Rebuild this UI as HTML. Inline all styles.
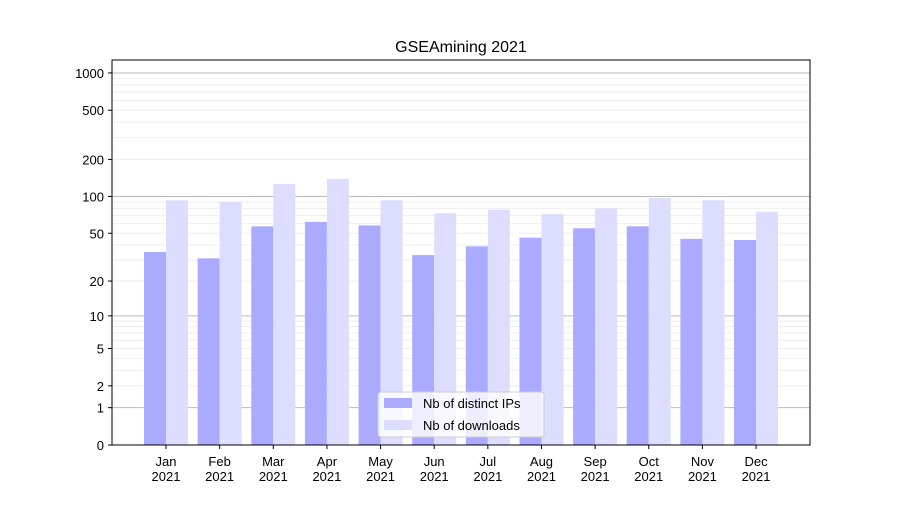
<!DOCTYPE html>
<html><head><meta charset="utf-8"><style>
body{margin:0;background:#fff;}
svg text{font-family:"Liberation Sans","DejaVu Sans",sans-serif;}
</style></head><body>
<svg id="chart" width="900" height="500" xmlns="http://www.w3.org/2000/svg">
<rect width="900" height="500" fill="#fff"/>
<text x="461" y="52" text-anchor="middle" font-size="16">GSEAmining 2021</text>
<g id="grid"></g>
<g id="bars"></g>
<rect x="112" y="60" width="698" height="385" fill="none" stroke="#000" stroke-width="1"/>
<g id="yaxis"></g>
<g id="xaxis"></g>
<g>
<rect x="378" y="392" width="166" height="45" rx="3" fill="#fff" fill-opacity="0.8" stroke="#ccc"/>
<rect x="384" y="398" width="28" height="10" fill="#aaaaff"/>
<text x="423" y="408" font-size="13">Nb of distinct IPs</text>
<rect x="384" y="420" width="28" height="10" fill="#ddddff"/>
<text x="423" y="430" font-size="13">Nb of downloads</text>
</g>
</svg>
<script>
const months=["Jan","Feb","Mar","Apr","May","Jun","Jul","Aug","Sep","Oct","Nov","Dec"];
const ips=[35,31,57,62,58,33,39,46,55,57,45,44];
const downloads=[93,90,126,139,93,73,78,72,80,97,93,75];
const yTicks=[0,1,2,5,10,20,50,100,200,500,1000];
const NS="http://www.w3.org/2000/svg";
function y(v){return 445-124*Math.log10(v+1);}
function xc(i){return 166+i*53.64;}
function mk(tag,attrs,parent){const e=document.createElementNS(NS,tag);for(const k in attrs)e.setAttribute(k,attrs[k]);document.getElementById(parent).appendChild(e);return e;}
// grid
for(let d=1;d<=1000;d*=10){for(let m=1;m<10;m++){const v=d*m;if(v>1000)break;
const l=mk("line",{x1:112,x2:810,y1:y(v),y2:y(v),stroke:m===1?"#bbb":"#eee","stroke-width":1},"grid");

}}
months.forEach((m,i)=>{
const a=mk("rect",{x:xc(i)-22,y:y(ips[i]),width:22,height:445-y(ips[i]),fill:"#aaaaff"},"bars");


const b=mk("rect",{x:xc(i),y:y(downloads[i]),width:22,height:445-y(downloads[i]),fill:"#ddddff"},"bars");


const t=mk("line",{x1:xc(i),x2:xc(i),y1:445,y2:449,stroke:"#000"},"xaxis");


const tx=mk("text",{x:xc(i),y:466,"text-anchor":"middle","font-size":13},"xaxis");


tx.innerHTML='<tspan x="'+xc(i)+'">'+m+'</tspan><tspan x="'+xc(i)+'" dy="15">2021</tspan>';
});
yTicks.forEach(v=>{
const t=mk("line",{x1:108,x2:112,y1:y(v),y2:y(v),stroke:"#000"},"yaxis");


const tx=mk("text",{x:104,y:y(v)+5,"text-anchor":"end","font-size":13},"yaxis");


tx.textContent=v;
});
</script>
</body></html>
